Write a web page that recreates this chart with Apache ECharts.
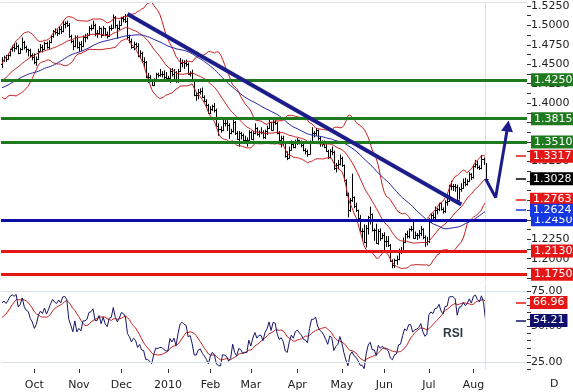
<!DOCTYPE html>
<html><head><meta charset="utf-8">
<script src="https://cdn.jsdelivr.net/npm/echarts@6/dist/echarts.min.js"></script>
<style>html,body{margin:0;padding:0;background:#fff;}#c{width:573px;height:392px;}</style>
</head><body><div id="c"></div>
<script>
// ---------- DATA ----------
const firstDate = '2009-09-09';
const futureSlots = 20;
// daily EUR/USD closes, highs, lows (Sep 9 2009 .. Aug 10 2010)
const closes = [
1.4560,1.4590,1.4570,1.4620,1.4690,1.4720,1.4710,1.4740,1.4650,1.4690,1.4790,1.4720,1.4690,1.4680,1.4620,1.4590,
1.4530,1.4570,1.4670,1.4720,1.4700,1.4770,1.4720,1.4780,1.4860,1.4930,1.4910,1.4900,1.4950,1.4930,1.5020,1.5030,1.5010,1.4860,1.4800,1.4730,1.4850,1.4720,
1.4760,1.4730,1.4850,1.4850,1.4870,1.4960,1.4970,1.5010,1.4900,1.4900,1.4960,1.4880,1.4960,1.4890,1.4860,1.4960,1.4970,1.5110,1.5010,1.4960,1.5010,
1.5090,1.5080,1.5050,1.4850,1.4800,1.4720,1.4760,1.4730,1.4610,1.4640,1.4540,1.4530,1.4340,1.4340,1.4290,1.4230,1.4310,1.4370,1.4360,1.4370,1.4370,1.4340,1.4320,
1.4320,1.4410,1.4370,1.4400,1.4310,1.4410,1.4510,1.4530,1.4510,1.4500,1.4380,1.4390,1.4290,1.4100,1.4100,1.4140,1.4150,1.4080,1.4030,1.3970,1.3870,
1.3930,1.3960,1.3910,1.3710,1.3670,1.3660,1.3750,1.3740,1.3720,1.3620,1.3640,1.3760,1.3610,1.3540,1.3610,1.3590,1.3520,1.3530,1.3520,1.3630,
1.3540,1.3620,1.3680,1.3600,1.3630,1.3630,1.3560,1.3640,1.3680,1.3760,1.3660,1.3760,1.3750,1.3620,1.3530,1.3550,1.3490,1.3320,1.3290,1.3400,1.3480,1.3430,1.3510,
1.3530,1.3490,1.3460,1.3400,1.3390,1.3350,1.3500,1.3620,1.3620,1.3650,1.3550,1.3500,1.3480,1.3440,1.3380,1.3310,1.3390,1.3370,1.3160,1.3200,1.3220,1.3300,
1.3200,1.3010,1.2820,1.2620,1.2750,1.2790,1.2680,1.2630,1.2520,1.2360,1.2360,1.2220,1.2400,1.2530,1.2570,1.2370,1.2370,1.2200,1.2350,1.2270,1.2300,
1.2230,1.2230,1.2170,1.1970,1.1920,1.1980,1.1990,1.2100,1.2110,1.2220,1.2320,1.2290,1.2380,1.2380,1.2270,1.2300,1.2310,1.2330,1.2380,1.2280,1.2210,1.2230,
1.2510,1.2560,1.2540,1.2630,1.2640,1.2710,1.2640,1.2610,1.2730,1.2740,1.2930,1.2940,1.2940,1.2920,1.2760,1.2900,1.2910,1.2990,1.2960,1.3000,1.3090,1.3050,
1.3190,1.3220,1.3180,1.3160,1.3280,1.3220,1.3028
];
const highs = [
1.4590,1.4610,1.4620,1.4640,1.4700,1.4740,1.4760,1.4780,1.4750,1.4710,1.4843,1.4800,1.4740,1.4700,1.4700,1.4640,
1.4640,1.4600,1.4700,1.4760,1.4750,1.4790,1.4790,1.4810,1.4870,1.4940,1.4960,1.4950,1.4990,1.4990,1.5060,1.5050,1.5060,1.5030,1.4880,1.4810,1.4870,1.4870,
1.4790,1.4800,1.4870,1.4890,1.4900,1.4990,1.5010,1.5060,1.5020,1.4940,1.4990,1.4970,1.4990,1.4960,1.4920,1.4990,1.5010,1.5140,1.5120,1.5010,1.5060,
1.5110,1.5120,1.5145,1.5100,1.4880,1.4830,1.4790,1.4780,1.4770,1.4680,1.4660,1.4590,1.4540,1.4390,1.4360,1.4300,1.4320,1.4390,1.4390,1.4440,1.4410,1.4420,1.4400,
1.4350,1.4450,1.4450,1.4440,1.4410,1.4440,1.4580,1.4560,1.4550,1.4560,1.4520,1.4410,1.4430,1.4300,1.4140,1.4180,1.4190,1.4200,1.4100,1.4050,1.3990,
1.3960,1.3980,1.4000,1.3930,1.3740,1.3700,1.3790,1.3800,1.3780,1.3740,1.3670,1.3790,1.3770,1.3640,1.3640,1.3630,1.3610,1.3580,1.3560,1.3650,
1.3640,1.3640,1.3740,1.3690,1.3650,1.3690,1.3650,1.3660,1.3710,1.3790,1.3760,1.3780,1.3815,1.3760,1.3640,1.3580,1.3580,1.3510,1.3380,1.3440,1.3520,1.3490,1.3530,
1.3550,1.3530,1.3520,1.3480,1.3420,1.3400,1.3520,1.3690,1.3640,1.3680,1.3660,1.3570,1.3520,1.3520,1.3470,1.3400,1.3410,1.3440,1.3390,1.3230,1.3270,1.3340,
1.3310,1.3210,1.3020,1.2850,1.2780,1.3093,1.2800,1.2720,1.2630,1.2560,1.2390,1.2440,1.2430,1.2550,1.2670,1.2580,1.2390,1.2450,1.2380,1.2390,1.2330,
1.2340,1.2290,1.2290,1.2190,1.1990,1.2000,1.2040,1.2130,1.2150,1.2270,1.2330,1.2360,1.2390,1.2420,1.2470,1.2350,1.2330,1.2370,1.2420,1.2390,1.2300,1.2280,
1.2520,1.2580,1.2590,1.2670,1.2650,1.2720,1.2720,1.2660,1.2750,1.2780,1.2950,1.3000,1.2960,1.2960,1.2950,1.2920,1.2970,1.3030,1.3040,1.3020,1.3110,1.3100,
1.3210,1.3270,1.3260,1.3200,1.3333,1.3300,1.3230
];
const lows = [
1.4450,1.4530,1.4530,1.4560,1.4600,1.4660,1.4660,1.4690,1.4630,1.4640,1.4680,1.4690,1.4650,1.4600,1.4590,1.4550,
1.4500,1.4480,1.4560,1.4660,1.4650,1.4690,1.4700,1.4690,1.4770,1.4840,1.4880,1.4860,1.4880,1.4890,1.4910,1.4960,1.4980,1.4840,1.4770,1.4680,1.4720,1.4700,
1.4660,1.4670,1.4720,1.4780,1.4820,1.4880,1.4930,1.4950,1.4860,1.4840,1.4880,1.4840,1.4870,1.4860,1.4830,1.4850,1.4930,1.4960,1.4960,1.4830,1.4940,
1.5000,1.5040,1.5030,1.4820,1.4770,1.4700,1.4680,1.4700,1.4590,1.4580,1.4520,1.4460,1.4320,1.4260,1.4270,1.4220,1.4220,1.4290,1.4330,1.4340,1.4330,1.4300,1.4300,
1.4300,1.4260,1.4340,1.4300,1.4260,1.4260,1.4400,1.4460,1.4440,1.4470,1.4360,1.4340,1.4270,1.4090,1.4030,1.4050,1.4110,1.4070,1.4010,1.3950,1.3860,
1.3860,1.3900,1.3880,1.3700,1.3580,1.3620,1.3640,1.3700,1.3640,1.3540,1.3600,1.3620,1.3590,1.3530,1.3440,1.3530,1.3500,1.3480,1.3440,1.3500,
1.3530,1.3520,1.3600,1.3580,1.3560,1.3600,1.3540,1.3540,1.3590,1.3670,1.3650,1.3650,1.3720,1.3600,1.3510,1.3430,1.3460,1.3300,1.3267,1.3300,1.3390,1.3420,1.3420,
1.3460,1.3470,1.3430,1.3380,1.3340,1.3310,1.3340,1.3490,1.3560,1.3580,1.3520,1.3440,1.3440,1.3420,1.3370,1.3280,1.3290,1.3330,1.3140,1.3110,1.3150,1.3200,
1.3180,1.2990,1.2810,1.2530,1.2600,1.2730,1.2650,1.2600,1.2500,1.2350,1.2230,1.2200,1.2144,1.2310,1.2440,1.2350,1.2230,1.2190,1.2180,1.2230,1.2250,
1.2110,1.2150,1.2150,1.1960,1.1876,1.1880,1.1920,1.1980,1.2060,1.2100,1.2200,1.2260,1.2260,1.2350,1.2260,1.2260,1.2240,1.2260,1.2290,1.2250,1.2153,1.2170,
1.2200,1.2460,1.2510,1.2510,1.2570,1.2610,1.2620,1.2580,1.2590,1.2680,1.2730,1.2880,1.2870,1.2860,1.2740,1.2760,1.2860,1.2900,1.2930,1.2940,1.2990,1.3010,
1.3030,1.3170,1.3150,1.3140,1.3150,1.3210,1.3010
];
// closes before the visible window (Jul..Sep 8 2009), only used to seed indicators
const priorCloses = [
1.4130,1.4040,1.4020,1.3920,1.3960,1.3910,1.3970,1.3930,1.3970,1.3980,
1.4120,1.4110,1.4100,1.4160,1.4200,1.4200,1.4230,1.4200,1.4230,1.4170,
1.4060,1.4100,1.4250,1.4410,1.4410,1.4390,1.4340,1.4190,1.4140,1.4150,
1.4200,1.4270,1.4190,1.4050,1.4130,1.4230,1.4310,1.4330,1.4290,1.4300,
1.4270,1.4320,1.4300,1.4330,1.4240,1.4290,1.4250,1.4320,1.4350,1.4500
];
const monthTickLabels = ['Oct','Nov','Dec','2010','Feb','Mar','Apr','May','Jun','Jul','Aug'];
const priceAxisLabels = [1.2000,1.2250,1.2500,1.2750,1.3000,1.3250,1.3500,1.3750,1.4000,1.4250,1.4500,1.4750,1.5000,1.5250];
const priceAxisTicks = [1.1750,1.1875,1.2000,1.2125,1.2250,1.2375,1.2500,1.2625,1.2750,1.2875,1.3000,1.3125,1.3250,1.3375,1.3500,1.3625,1.3750,1.3875,1.4000,1.4125,1.4250,1.4375,1.4500,1.4625,1.4750,1.4875,1.5000,1.5125,1.5250];
const rsiAxisLabels = [25,50,75];
const rsiAxisTicks = [20,25,30,35,40,45,50,55,60,65,70,75];
const greenLevels = [1.4250,1.3815,1.3510];
const blueLevels = [1.2450];
const redLevels = [1.2130,1.1750];
const trendFrom = ['2009-12-04', 1.5145];
const trendTo = ['2010-07-23', 1.2696];
const forecastDates = ['2010-08-10','2010-08-17','2010-08-25'];
const forecastValues = [1.3028, 1.2786, 1.3705];
const bbUpperLast = 1.3317, lastClose = 1.3028, bbLowerLast = 1.2763, ma50Last = 1.2624;
const rsiLast = 54.21, rsiMaLast = 66.96;

// ---------- CATEGORIES (weekdays) ----------
const cats = [];
(function(){
  const d = new Date(firstDate + 'T00:00:00Z');
  const total = closes.length + futureSlots;
  while (cats.length < total) {
    const wd = d.getUTCDay();
    if (wd !== 0 && wd !== 6) cats.push(d.toISOString().slice(0,10));
    d.setUTCDate(d.getUTCDate() + 1);
  }
})();
const N = cats.length, L = closes.length;
const tickText = {};
(function(){
  let k = 0;
  for (let i = 1; i < L; i++) {
    if (cats[i].slice(5,7) !== cats[i-1].slice(5,7) && k < monthTickLabels.length) tickText[i] = monthTickLabels[k++];
  }
})();
const isTick = (i) => tickText[i] !== undefined;

// ---------- INDICATORS ----------
const all = priorCloses.concat(closes), P = priorCloses.length;
function smaAt(arr, n, i){ let s=0; for(let k=i-n+1;k<=i;k++) s+=arr[k]; return s/n; }
const bbU=[], bbM=[], bbL=[], ma50=[];
for (let i=0;i<L;i++){
  const j=P+i, m=smaAt(all,20,j);
  let v=0; for(let k=j-19;k<=j;k++) v+=(all[k]-m)*(all[k]-m);
  const sd=Math.sqrt(v/20);
  bbM.push(m); bbU.push(m+2*sd); bbL.push(m-2*sd);
  ma50.push(smaAt(all,50,j));
}
const rsiAll = new Array(all.length).fill(null);
(function(){
  let g=0,l=0;
  for(let k=1;k<=14;k++){ const d=all[k]-all[k-1]; if(d>0) g+=d; else l-=d; }
  g/=14; l/=14; rsiAll[14]=100-100/(1+g/l);
  for(let k=15;k<all.length;k++){ const d=all[k]-all[k-1];
    g=(g*13+(d>0?d:0))/14; l=(l*13+(d<0?-d:0))/14; rsiAll[k]=100-100/(1+g/l); }
})();
const rsi=[], rsiMa=[];
for(let i=0;i<L;i++){ const j=P+i; rsi.push(rsiAll[j]); let s=0; for(let k=j-8;k<=j;k++) s+=rsiAll[k]; rsiMa.push(s/9); }

const ohlc = closes.map((c,i)=>[i, i===0?priorCloses[P-1]:closes[i-1], c, lows[i], highs[i]]);
const forecast = new Array(N).fill(null);
forecastDates.forEach((d,k)=>{
  const idx=cats.indexOf(d);
  forecast[idx] = (k===forecastDates.length-1)
    ? {value:forecastValues[k], symbol:'triangle', symbolSize:[12,11], symbolRotate:-8}
    : forecastValues[k];
});

// ---------- STYLE ----------
const FONT='DejaVu Sans';
const C_GREEN='#1f7a1f', C_BLUE='#0c0ca6', C_RED='#e41616', C_NAVY='#1c1c8a';
function levelItem(v,color,boxColor){
  return {yAxis:v, lineStyle:{color:color,width:3,type:'solid'},
    label:{show:true,position:'end',distance:4,formatter:v.toFixed(4),color:'#fff',backgroundColor:boxColor,
      fontFamily:FONT,fontSize:11,lineHeight:12,padding:[1,3,0,3]}};
}
function tagItem(v,color,boxColor,dec){
  return [{coord:[N-6,v]},{coord:[N-1,v],lineStyle:{color:color,width:1.5,type:'solid'},
    label:{show:true,position:'end',distance:4,formatter:v.toFixed(dec),color:'#fff',backgroundColor:boxColor,
      fontFamily:FONT,fontSize:11,lineHeight:12,padding:[1,3,0,3]}}];
}
const levelData = []
  .concat(greenLevels.map(v=>levelItem(v,C_GREEN,C_GREEN)))
  .concat(blueLevels.map(v=>levelItem(v,C_BLUE,'#1538e0')))
  .concat(redLevels.map(v=>levelItem(v,C_RED,C_RED)));

const chart = echarts.init(document.getElementById('c'), null, {renderer:'canvas'});
chart.setOption({
  animation:false,
  backgroundColor:'#fff',
  grid:[{left:1,right:46,top:2,height:280,containLabel:false,outerBoundsMode:'none'},
        {left:1,right:46,top:284,height:85,containLabel:false,outerBoundsMode:'none'}],
  xAxis:[
    {type:'category',gridIndex:0,data:cats,boundaryGap:true,show:false},
    {type:'category',gridIndex:1,data:cats,boundaryGap:true,
      axisLine:{show:false},
      axisTick:{show:true,interval:isTick,alignWithLabel:true,length:4,lineStyle:{color:'#333'}},
      axisLabel:{interval:isTick,formatter:(v,i)=>tickText[i]||'',color:'#222',fontSize:11,fontFamily:FONT,margin:11},
      splitLine:{show:false}}
  ],
  yAxis:[
    {type:'value',gridIndex:0,position:'right',min:1.17,max:1.53,
      axisLine:{show:false},splitLine:{show:false},
      axisTick:{show:true,length:4,lineStyle:{color:'#333'},customValues:priceAxisTicks},
      axisLabel:{customValues:priceAxisLabels,formatter:v=>v.toFixed(4),color:'#222',fontSize:11,fontFamily:FONT,margin:4,padding:[4,0,0,0]}},
    {type:'value',gridIndex:1,position:'right',min:20,max:80,
      axisLine:{show:false},splitLine:{show:false},
      axisTick:{show:true,length:4,lineStyle:{color:'#333'},customValues:rsiAxisTicks},
      axisLabel:{customValues:rsiAxisLabels,formatter:v=>v.toFixed(2),color:'#222',fontSize:11,fontFamily:FONT,margin:4,padding:[0,0,6,0]}}
  ],
  graphic:[
    {type:'text',left:550,top:379,style:{text:'D',fill:'#222',font:'11px "DejaVu Sans"'}},
    {type:'text',left:443,top:328,style:{text:'RSI',fill:'#2d3a44',font:'bold 12px "Liberation Sans"'}}
  ],
  series:[
    {type:'line',xAxisIndex:0,yAxisIndex:0,data:[],silent:true,z:1,
      markLine:{silent:true,symbol:'none',animation:false,label:{show:false},
        data:[{xAxis:cats[L-1],lineStyle:{color:'#d6e0ea',width:1,type:'solid'}},
              {yAxis:1.53,lineStyle:{color:'#dde3e8',width:1,type:'solid'}}]}},
    {type:'custom',xAxisIndex:0,yAxisIndex:0,data:ohlc,z:3,clip:true,silent:true,
      encode:{x:0,y:[1,2,3,4]},
      renderItem:function(params,api){
        const i=api.value(0),o=api.value(1),c=api.value(2),l=api.value(3),h=api.value(4);
        const x=Math.round(api.coord([i,c])[0])+0.5;
        const yc=Math.round(api.coord([i,c])[1])+0.5;
        const yo=Math.round(api.coord([i,o])[1])+0.5;
        const yh=api.coord([i,Math.max(h,o,c)])[1];
        const yl=api.coord([i,Math.min(l,o,c)])[1];
        const st={stroke:'#000',lineWidth:1};
        return {type:'group',children:[
          {type:'line',shape:{x1:x,y1:yh,x2:x,y2:yl},style:st},
          {type:'line',shape:{x1:x-2,y1:yo,x2:x,y2:yo},style:st},
          {type:'line',shape:{x1:x,y1:yc,x2:x+2,y2:yc},style:st}]};
      }},
    {type:'line',xAxisIndex:0,yAxisIndex:0,data:bbU,showSymbol:false,silent:true,z:4,lineStyle:{color:'#c81e1e',width:1}},
    {type:'line',xAxisIndex:0,yAxisIndex:0,data:bbM,showSymbol:false,silent:true,z:4,lineStyle:{color:'#c81e1e',width:1}},
    {type:'line',xAxisIndex:0,yAxisIndex:0,data:bbL,showSymbol:false,silent:true,z:4,lineStyle:{color:'#c81e1e',width:1}},
    {type:'line',xAxisIndex:0,yAxisIndex:0,data:ma50,showSymbol:false,silent:true,z:4,lineStyle:{color:'#2222a0',width:1}},
    {type:'line',xAxisIndex:0,yAxisIndex:0,data:[],silent:true,z:5,
      markLine:{silent:true,symbol:'none',animation:false,data:levelData}},
    {type:'line',xAxisIndex:0,yAxisIndex:0,data:[],silent:true,z:6,
      markLine:{silent:true,symbol:'none',animation:false,label:{show:false},
        data:[[{coord:[cats.indexOf(trendFrom[0]),trendFrom[1]]},{coord:[cats.indexOf(trendTo[0]),trendTo[1]]}]],
        lineStyle:{color:C_NAVY,width:4,type:'solid'}}},
    {type:'line',xAxisIndex:0,yAxisIndex:0,data:forecast,connectNulls:true,silent:true,z:6,
      symbol:'none',showSymbol:true,showAllSymbol:true,
      lineStyle:{color:C_NAVY,width:3},itemStyle:{color:C_NAVY}},
    {type:'line',xAxisIndex:0,yAxisIndex:0,data:[],silent:true,z:7,
      markLine:{silent:true,symbol:'none',animation:false,
        data:[tagItem(bbUpperLast,'#e41616',C_RED,4),tagItem(lastClose,'#000','#000',4),
              tagItem(bbLowerLast,'#e41616',C_RED,4),tagItem(ma50Last,'#1538e0','#1538e0',4)]}},
    // RSI panel
    {type:'line',xAxisIndex:1,yAxisIndex:1,data:[],silent:true,z:1,
      markLine:{silent:true,symbol:'none',animation:false,label:{show:false},
        data:[{yAxis:75,lineStyle:{color:'#d8e0e8',width:1,type:'solid'}},
              {yAxis:25,lineStyle:{color:'#d8e0e8',width:1,type:'solid'}},
              {xAxis:cats[L-1],lineStyle:{color:'#d6e0ea',width:1,type:'solid'}}]}},
    {type:'line',xAxisIndex:1,yAxisIndex:1,data:rsiMa,showSymbol:false,silent:true,z:3,lineStyle:{color:'#c42020',width:1}},
    {type:'line',xAxisIndex:1,yAxisIndex:1,data:rsi,showSymbol:false,silent:true,z:4,lineStyle:{color:'#161666',width:1}},
    {type:'line',xAxisIndex:1,yAxisIndex:1,data:[],silent:true,z:7,
      markLine:{silent:true,symbol:'none',animation:false,
        data:[tagItem(rsiMaLast,'#e41616',C_RED,2),tagItem(rsiLast,'#10106a','#10106a',2)]}}
  ]
});
</script>
</body></html>
